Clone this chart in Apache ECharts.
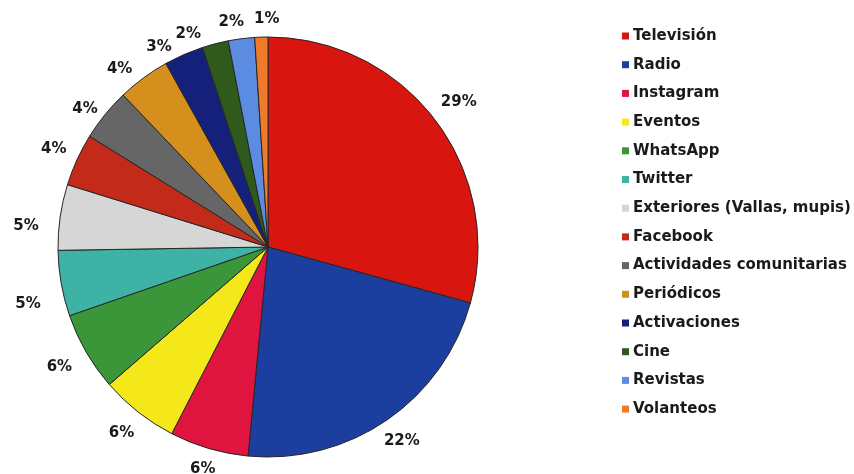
<!DOCTYPE html>
<html>
<head>
<meta charset="utf-8">
<script src="https://cdn.jsdelivr.net/npm/echarts@6/dist/echarts.min.js"></script>
<style>
  html, body { margin: 0; padding: 0; background: #ffffff; }
  #chart { width: 854px; height: 474px; }
</style>
</head>
<body>
<div id="chart"></div>
<script>
// Media channels and their share (%)
const categories = [
  'Televisión', 'Radio', 'Instagram', 'Eventos', 'WhatsApp', 'Twitter',
  'Exteriores (Vallas, mupis)', 'Facebook', 'Actividades comunitarias',
  'Periódicos', 'Activaciones', 'Cine', 'Revistas', 'Volanteos'
];
const shares = [29, 22, 6, 6, 6, 5, 5, 4, 4, 4, 3, 2, 2, 1];
const colors = [
  '#d8150f', '#1c3f9f', '#df1540', '#f4e81a', '#3b963a', '#3fb2a6',
  '#d6d6d6', '#c42a1a', '#666666', '#d48f1c', '#15207a', '#2f5a1c',
  '#5b8ce2', '#ef7a2c'
];

const CX = 268, CY = 247, R = 210;
const total = shares.reduce((a, b) => a + b, 0);

// Small label offsets [degrees, px] so the crowded labels of the thin
// slices on the left and near the top stay apart from each other
const labelNudge = {
  5: [-3.5, 4], 6: [-3.3, 0],
  7: [0, -6], 8: [-2, -10], 9: [-3.5, -5], 10: [-5, -6],
  11: [-6, -4], 12: [-2, -1], 13: [1.5, 0]
};

// Centre each percentage label on the slice's mid-angle just outside the rim;
// labels to the sides sit a bit further out because the text is wider than tall
function labelPos(i) {
  let before = 0;
  for (let k = 0; k < i; k++) before += shares[k];
  let mid = (before + shares[i] / 2) / total * Math.PI * 2;
  let r = 227 + 16 * Math.abs(Math.sin(mid));
  const n = labelNudge[i];
  if (n) {
    mid += n[0] * Math.PI / 180;
    r += n[1];
  }
  return { x: CX + r * Math.sin(mid), y: CY - r * Math.cos(mid) };
}

const FONT = 'DejaVu Sans, Liberation Sans, Arial, sans-serif';
const chart = echarts.init(document.getElementById('chart'), null, { renderer: 'canvas' });

chart.setOption({
  animation: false,
  backgroundColor: '#ffffff',
  color: colors,
  legend: {
    orient: 'vertical',
    left: 617,
    top: 23,
    itemWidth: 7,
    itemHeight: 7,
    itemGap: 12.7,
    icon: 'rect',
    itemStyle: { borderWidth: 0 },
    textStyle: {
      fontFamily: FONT,
      fontWeight: 'bold',
      fontSize: 15,
      lineHeight: 16,
      color: '#1a1a1a',
      padding: [0, 0, 0, -1]
    },
    data: categories
  },
  series: [{
    type: 'pie',
    center: [CX, CY],
    radius: R,
    startAngle: 90,
    clockwise: true,
    avoidLabelOverlap: false,
    itemStyle: {
      borderColor: '#262626',
      borderWidth: 1
    },
    label: {
      show: true,
      position: 'outside',
      formatter: (p) => p.value + '%',
      fontFamily: FONT,
      fontWeight: 'bold',
      fontSize: 15,
      color: '#1a1a1a'
    },
    labelLine: { show: false },
    labelLayout: (p) => {
      const pos = labelPos(p.dataIndex);
      return { x: pos.x, y: pos.y, align: 'center', verticalAlign: 'middle' };
    },
    data: categories.map((name, i) => ({ name, value: shares[i] }))
  }]
});
</script>
</body>
</html>
